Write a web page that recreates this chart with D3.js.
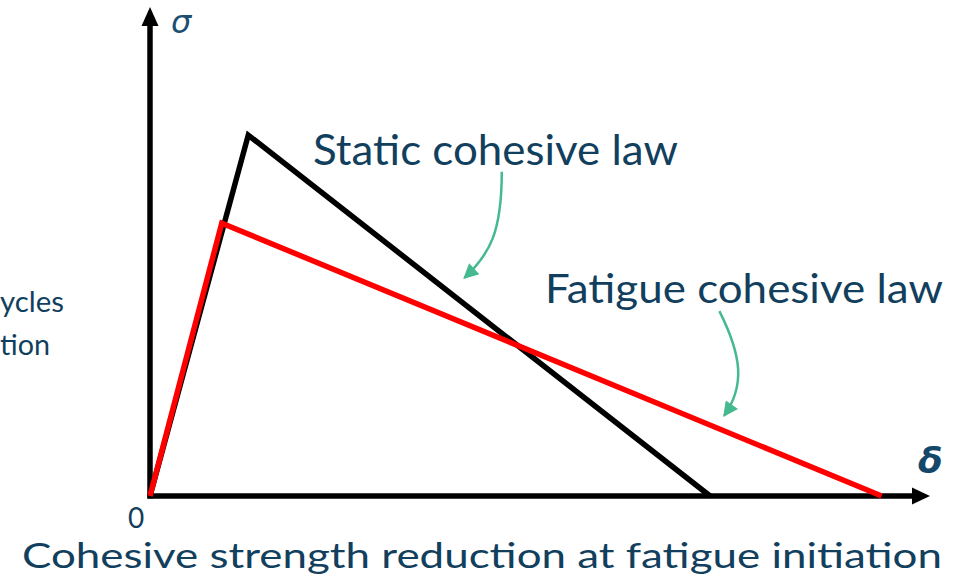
<!DOCTYPE html>
<html>
<head>
<meta charset="utf-8">
<script src="https://cdn.jsdelivr.net/npm/d3@7"></script>
<style>
  html, body { margin: 0; padding: 0; background: #fff; overflow: hidden; }
  svg { display: block; }
</style>
</head>
<body>
<svg id="chart" width="961" height="581"></svg>
<script>
// ---- data (abstract units: δ on x, σ on y) ----
const staticLaw  = [[0, 0], [12.6, 73.8], [71.8, 0]];
const fatigueLaw = [[0, 0], [9.2, 55.8], [93.8, 0]];
const axisExtent = { x: [0, 100], y: [0, 100] };
const seriesLabels = ["Static cohesive law", "Fatigue cohesive law"];
const axisLabels = { x: "δ", y: "σ", origin: "0" };
const title = "Cohesive strength reduction at fatigue initiation";
const sideText = ["ycles", "tion"];
// annotation arrows (data units: start, control1, control2, end)
const staticArrow  = [[45.1, 66.3], [45.1, 54.0], [43.6, 49.5], [40.3, 44.6]];
const fatigueArrow = [[73.0, 37.8], [75.9, 28.6], [76.3, 22.5], [73.6, 16.4]];

const svg = d3.select("#chart");
const x = d3.scaleLinear().domain(axisExtent.x).range([150, 930]);
const y = d3.scaleLinear().domain(axisExtent.y).range([496, 7]);

const textColor = "#123f5d";

// ---- axes with arrowheads ----
const axisW = 5.5;
svg.append("line")
  .attr("x1", x(0)).attr("y1", y(0) + 2.5)
  .attr("x2", x(0)).attr("y2", y(100) + 16)
  .attr("stroke", "#000").attr("stroke-width", axisW);
svg.append("line")
  .attr("x1", x(0) - 2.5).attr("y1", y(0))
  .attr("x2", x(100) - 16).attr("y2", y(0))
  .attr("stroke", "#000").attr("stroke-width", axisW);
svg.append("path")
  .attr("d", `M${x(0)},${y(100)} L${x(0) - 8.5},${y(100) + 19} L${x(0) + 8.5},${y(100) + 19} Z`)
  .attr("fill", "#000");
svg.append("path")
  .attr("d", `M${x(100)},${y(0)} L${x(100) - 18},${y(0) - 8.5} L${x(100) - 18},${y(0) + 8.5} Z`)
  .attr("fill", "#000");

// ---- cohesive laws ----
const line = d3.line().x(d => x(d[0])).y(d => y(d[1]));
svg.append("path").datum(staticLaw)
  .attr("d", line).attr("fill", "none")
  .attr("stroke", "#000").attr("stroke-width", 5.5)
  .attr("stroke-linejoin", "miter");
svg.append("path").datum(fatigueLaw)
  .attr("d", line).attr("fill", "none")
  .attr("stroke", "#ff0000").attr("stroke-width", 5.5)
  .attr("stroke-linejoin", "miter");

// ---- annotation arrows ----
const defs = svg.append("defs");
defs.append("marker")
  .attr("id", "greenHead")
  .attr("viewBox", "0 0 10 10")
  .attr("refX", 9).attr("refY", 5)
  .attr("markerWidth", 17).attr("markerHeight", 15)
  .attr("markerUnits", "userSpaceOnUse")
  .attr("orient", "auto")
  .append("path").attr("d", "M0,0 L10,5 L0,10 Z").attr("fill", "#45b98f");

function bez(p) {
  const q = p.map(d => [x(d[0]), y(d[1])]);
  return `M${q[0]} C${q[1]} ${q[2]} ${q[3]}`;
}
[staticArrow, fatigueArrow].forEach(a => {
  svg.append("path")
    .attr("d", bez(a))
    .attr("fill", "none")
    .attr("stroke", "#45b98f")
    .attr("stroke-width", 2.5)
    .attr("marker-end", "url(#greenHead)");
});

// ---- texts ----
const font = "Lato, 'Open Sans', sans-serif";
svg.append("text")
  .attr("x", 313).attr("y", 165)
  .attr("font-family", font).attr("font-size", 43)
  .attr("textLength", 365).attr("lengthAdjust", "spacingAndGlyphs")
  .attr("fill", textColor).text(seriesLabels[0]);
svg.append("text")
  .attr("x", 545).attr("y", 303)
  .attr("font-family", font).attr("font-size", 41)
  .attr("textLength", 398).attr("lengthAdjust", "spacingAndGlyphs")
  .attr("fill", textColor).text(seriesLabels[1]);
svg.append("text")
  .attr("x", 22).attr("y", 568)
  .attr("font-family", font).attr("font-size", 34)
  .attr("textLength", 920).attr("lengthAdjust", "spacingAndGlyphs")
  .attr("fill", textColor).text(title);

svg.append("text")
  .attr("x", 0).attr("y", 312)
  .attr("font-family", font).attr("font-size", 29)
  .attr("textLength", 64).attr("lengthAdjust", "spacingAndGlyphs")
  .attr("fill", textColor).text(sideText[0]);
svg.append("text")
  .attr("x", 0).attr("y", 355)
  .attr("font-family", font).attr("font-size", 29)
  .attr("textLength", 50).attr("lengthAdjust", "spacingAndGlyphs")
  .attr("fill", textColor).text(sideText[1]);

svg.append("text")
  .attr("x", 136).attr("y", 528)
  .attr("text-anchor", "middle")
  .attr("font-family", font).attr("font-size", 28)
  .attr("fill", textColor).text(axisLabels.origin);

svg.append("text")
  .attr("x", 171).attr("y", 33)
  .attr("font-family", "'DejaVu Sans', sans-serif").attr("font-style", "italic")
  .attr("font-size", 32)
  .attr("fill", "#1b4f72").text(axisLabels.y);
svg.append("text")
  .attr("x", 918).attr("y", 473)
  .attr("font-family", "'DejaVu Sans', sans-serif").attr("font-style", "italic")
  .attr("font-weight", "bold")
  .attr("font-size", 36)
  .attr("fill", "#15476a").text(axisLabels.x);
</script>
</body>
</html>
